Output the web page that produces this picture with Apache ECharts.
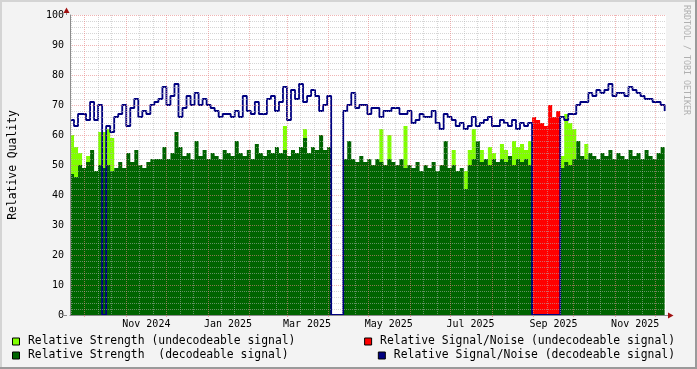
<!DOCTYPE html>
<html><head><meta charset="utf-8">
<script src="https://cdn.jsdelivr.net/npm/echarts@6/dist/echarts.min.js"></script>
<style>html,body{margin:0;padding:0;background:#F3F3F3}#c{width:697px;height:369px}</style>
</head><body><div id="c"></div>
<script>
// ---- data (one value every 3 days, starting 2024-09-20) ----
const START_DATE = '2024-09-20';
const END_DATE = '2025-12-09';
const STEP_DAYS = 3;

const snrDecodeable = [
  65, 63, 67, 67, 65, 71, 65, 70, 0, 63,
  61, 66, 67, 70, 63, 69, 72, 66, 68, 67,
  70, 71, 72, 76, 70, 73, 77, 66, 69, 73,
  70, 74, 70, 72, 70, 69, 68, 66, 67, 67,
  66, 68, 66, 73, 68, 67, 71, 67, 67, 72,
  73, 68, 71, 76, 65, 75, 72, 77, 71, 73,
  75, 73, 68, 70, 73, 0, 0, 0, 68, 70,
  74, 69, 70, 70, 67, 69, 69, 66, 68, 68,
  69, 69, 67, 67, 68, 64, 65, 67, 66, 66,
  68, 64, 62, 67, 66, 65, 63, 64, 62, 63,
  66, 63, 64, 65, 66, 63, 63, 65, 64, 63,
  65, 62, 64, 63, 64, 0, 0, 0, 0, 0,
  0, 0, 66, 65, 67, 67, 70, 71, 71, 74,
  73, 75, 74, 75, 77, 73, 74, 74, 73, 76,
  75, 74, 73, 72, 72, 71, 71, 70, 68
];
const snrUndecodeable = [
  0, 0, 0, 0, 0, 0, 0, 0, 0, 0,
  0, 0, 0, 0, 0, 0, 0, 0, 0, 0,
  0, 0, 0, 0, 0, 0, 0, 0, 0, 0,
  0, 0, 0, 0, 0, 0, 0, 0, 0, 0,
  0, 0, 0, 0, 0, 0, 0, 0, 0, 0,
  0, 0, 0, 0, 0, 0, 0, 0, 0, 0,
  0, 0, 0, 0, 0, 0, 0, 0, 0, 0,
  0, 0, 0, 0, 0, 0, 0, 0, 0, 0,
  0, 0, 0, 0, 0, 0, 0, 0, 0, 0,
  0, 0, 0, 0, 0, 0, 0, 0, 0, 0,
  0, 0, 0, 0, 0, 0, 0, 0, 0, 0,
  0, 0, 0, 0, 0, 66, 65, 64, 63, 70,
  66, 68, 0, 0, 0, 0, 0, 0, 0, 0,
  0, 0, 0, 0, 0, 0, 0, 0, 0, 0,
  0, 0, 0, 0, 0, 0, 0, 0, 0
];
const strengthDecodeable = [
  47, 46, 50, 49, 51, 55, 48, 50, 49, 50,
  48, 49, 51, 49, 54, 51, 55, 50, 49, 51,
  52, 52, 52, 56, 52, 54, 61, 56, 53, 54,
  52, 58, 53, 55, 52, 54, 53, 52, 55, 54,
  53, 58, 54, 53, 55, 52, 57, 54, 53, 55,
  54, 56, 54, 55, 53, 55, 54, 56, 59, 54,
  56, 55, 60, 55, 56, 0, 0, 0, 52, 58,
  52, 51, 53, 51, 52, 50, 52, 51, 50, 52,
  51, 50, 52, 49, 50, 49, 51, 48, 50, 49,
  51, 48, 50, 58, 49, 50, 48, 49, 42, 50,
  52, 58, 51, 52, 50, 52, 51, 52, 51, 53,
  50, 52, 51, 52, 50, 50, 50, 50, 50, 50,
  50, 50, 49, 51, 50, 52, 58, 53, 52, 54,
  53, 52, 54, 53, 55, 52, 54, 53, 52, 55,
  53, 54, 52, 55, 53, 52, 54, 56, 52
];
const strengthUndecodeable = [
  60, 56, 54, 0, 53, 0, 0, 61, 61, 62,
  59, 0, 0, 0, 0, 0, 0, 0, 0, 0,
  0, 0, 0, 0, 0, 0, 0, 0, 0, 0,
  0, 0, 0, 0, 0, 0, 0, 0, 0, 0,
  0, 0, 0, 0, 0, 0, 0, 0, 0, 0,
  0, 0, 0, 63, 0, 0, 0, 0, 62, 0,
  0, 0, 0, 0, 0, 0, 0, 0, 0, 0,
  0, 0, 0, 0, 0, 0, 0, 62, 0, 60,
  0, 0, 0, 63, 0, 0, 0, 0, 0, 0,
  0, 0, 0, 0, 0, 55, 0, 0, 48, 55,
  62, 0, 55, 0, 56, 54, 0, 57, 55, 0,
  58, 56, 57, 55, 58, 0, 0, 0, 0, 0,
  0, 0, 53, 67, 64, 62, 0, 0, 57, 0,
  0, 0, 0, 0, 0, 0, 0, 0, 0, 0,
  0, 0, 0, 0, 0, 0, 0, 0, 0
];

// axis ticks / labels
const majorGridDates = ['2024-10-01','2024-11-01','2024-12-01','2025-01-01','2025-02-01','2025-03-01',
  '2025-04-01','2025-05-01','2025-06-01','2025-07-01','2025-08-01','2025-09-01','2025-10-01','2025-11-01','2025-12-01'];
const minorGridDays = [11, 21];
const labelDates = ['2024-11-16','2025-01-16','2025-03-16','2025-05-16','2025-07-16','2025-09-16','2025-11-16'];
const labelTexts = ['Nov 2024','Jan 2025','Mar 2025','May 2025','Jul 2025','Sep 2025','Nov 2025'];
const yTicks = [0,10,20,30,40,50,60,70,80,90,100];

const names = {
  su: 'Relative Strength (undecodeable signal)',
  sd: 'Relative Strength  (decodeable signal)',
  nu: 'Relative Signal/Noise (undecodeable signal)',
  nd: 'Relative Signal/Noise (decodeable signal)'
};

// ---- build ----
const DAY = 86400000;
function utc(s){const p=s.split('-').map(Number);return Date.UTC(p[0],p[1]-1,p[2]);}
const tMin = utc(START_DATE), tMax = utc(END_DATE);
const times = snrDecodeable.map((_, i) => tMin + i * STEP_DAYS * DAY);
const pair = arr => arr.map((v, i) => [times[i], v]);
const majorT = majorGridDates.map(utc);
const minorT = [Date.UTC(2024,8,21)];
majorT.forEach(t => { const d = new Date(t); minorGridDays.forEach(dd => {
  const v = Date.UTC(d.getUTCFullYear(), d.getUTCMonth(), dd); if (v < tMax) minorT.push(v); }); });
const labelT = labelDates.map(utc);
const labelMap = {}; labelT.forEach((t, i) => labelMap[t] = labelTexts[i]);

const FONT = 'DejaVu Sans Mono';
const MAJOR = 'rgba(230,130,130,0.6)';
const MINOR = 'rgba(180,180,180,0.55)';
const AXIS = '#8c8c8c';

const legendCommon = {
  orient: 'horizontal', padding: 0, selectedMode: false,
  icon: 'path://M0,0L10,0L10,10L0,10Z', itemWidth: 14, itemHeight: 7,
  itemStyle: {borderColor: '#000', borderWidth: 1},
  textStyle: {fontFamily: FONT, fontSize: 11.4, color: '#000'}
};

const chart = echarts.init(document.getElementById('c'), null, {renderer: 'canvas'});
const option = {
  animation: false,
  backgroundColor: '#F3F3F3',
  grid: {left: 67, right: 31, top: 15, bottom: 54, show: true, backgroundColor: '#ffffff', borderWidth: 0},
  xAxis: [
    {type: 'value', min: tMin, max: tMax, position: 'bottom', z: 10, scale: true,
     axisLine: {show: true, onZero: false, lineStyle: {color: AXIS, width: 1}},
     axisTick: {show: true, length: 2, customValues: majorT, lineStyle: {color: MAJOR}},
     axisLabel: {show: false},
     splitLine: {show: true, lineStyle: {color: MAJOR, width: 1, type: [1, 1]}}},
    {type: 'value', min: tMin, max: tMax, position: 'bottom', z: 9, scale: true,
     axisLine: {show: false, onZero: false},
     axisTick: {show: false, customValues: minorT},
     axisLabel: {show: false},
     splitLine: {show: true, lineStyle: {color: MINOR, width: 1, type: [1, 1]}}},
    {type: 'value', min: tMin, max: tMax, position: 'bottom', z: 10, scale: true,
     axisLine: {show: false, onZero: false}, axisTick: {show: false}, splitLine: {show: false},
     axisLabel: {show: true, customValues: labelT, margin: 4, fontFamily: FONT, fontSize: 10, color: '#000',
       formatter: v => labelMap[v] || ''}}
  ],
  yAxis: {
    type: 'value', min: 0, max: 100, interval: 10, z: 10,
    name: 'Relative Quality', nameLocation: 'middle', nameRotate: 90, nameGap: 51,
    nameTextStyle: {fontFamily: FONT, fontSize: 11.4, color: '#000'},
    axisLine: {show: true, lineStyle: {color: AXIS, width: 1}},
    axisTick: {show: false},
    axisLabel: {margin: 6, fontFamily: FONT, fontSize: 10, color: '#000',
      formatter: v => yTicks.indexOf(v) >= 0 ? String(v) : ''},
    splitLine: {show: true, lineStyle: {color: MAJOR, width: 1, type: [1, 1]}},
    minorTick: {show: false, splitNumber: 5},
    minorSplitLine: {show: true, lineStyle: {color: MINOR, width: 1, type: [1, 1]}}
  },
  legend: [
    Object.assign({data: [names.su], left: 12, top: 336}, legendCommon),
    Object.assign({data: [names.sd], left: 12, top: 350}, legendCommon),
    Object.assign({data: [names.nu], right: 22, top: 336}, legendCommon),
    Object.assign({data: [names.nd], right: 22, top: 350}, legendCommon)
  ],
  series: [
    {name: names.su, type: 'line', step: 'end', data: pair(strengthUndecodeable), showSymbol: false, symbol: 'none',
     color: '#80FF00', lineStyle: {width: 0}, areaStyle: {color: '#80FF00', opacity: 1}, silent: true},
    {name: names.sd, type: 'line', step: 'end', data: pair(strengthDecodeable), showSymbol: false, symbol: 'none',
     color: '#006400', lineStyle: {width: 0}, areaStyle: {color: '#006400', opacity: 1}, silent: true},
    {name: names.nu, type: 'line', step: 'end', data: pair(snrUndecodeable), showSymbol: false, symbol: 'none',
     color: '#FF0000', lineStyle: {width: 0}, areaStyle: {color: '#FF0000', opacity: 1}, silent: true},
    {name: names.nd, type: 'line', step: 'end', data: pair(snrDecodeable), showSymbol: false, symbol: 'none',
     color: '#000080', lineStyle: {width: 1.8, color: '#000080'}, silent: true}
  ],
  graphic: [
    {type: 'rect', shape: {x: 0, y: 0, width: 697, height: 2}, style: {fill: '#D4D4D4'}, silent: true},
    {type: 'rect', shape: {x: 0, y: 0, width: 2, height: 369}, style: {fill: '#D4D4D4'}, silent: true},
    {type: 'rect', shape: {x: 0, y: 367, width: 697, height: 2}, style: {fill: '#9A9A9A'}, silent: true},
    {type: 'rect', shape: {x: 695, y: 0, width: 2, height: 369}, style: {fill: '#9A9A9A'}, silent: true},
    {type: 'line', shape: {x1: 66.5, y1: 15, x2: 66.5, y2: 11}, style: {stroke: AXIS, lineWidth: 1}, silent: true, z: 20},
    {type: 'polygon', shape: {points: [[63.5, 13], [69.5, 13], [66.5, 7.5]]}, style: {fill: '#A01010'}, silent: true, z: 20},
    {type: 'line', shape: {x1: 62, y1: 315.5, x2: 67, y2: 315.5}, style: {stroke: AXIS, lineWidth: 1}, silent: true, z: 20},
    {type: 'line', shape: {x1: 666, y1: 315.5, x2: 669, y2: 315.5}, style: {stroke: AXIS, lineWidth: 1}, silent: true, z: 20},
    {type: 'polygon', shape: {points: [[668, 312.5], [668, 318.5], [673.5, 315.5]]}, style: {fill: '#A01010'}, silent: true, z: 20},
    {type: 'text', x: 686, y: 5, rotation: -Math.PI / 2, silent: true,
     style: {text: 'RRDTOOL / TOBI OETIKER', fill: '#B0B0B0', font: '8.3px "DejaVu Sans Mono"', align: 'left', verticalAlign: 'middle'}}
  ]
};
chart.setOption(option);
</script></body></html>
